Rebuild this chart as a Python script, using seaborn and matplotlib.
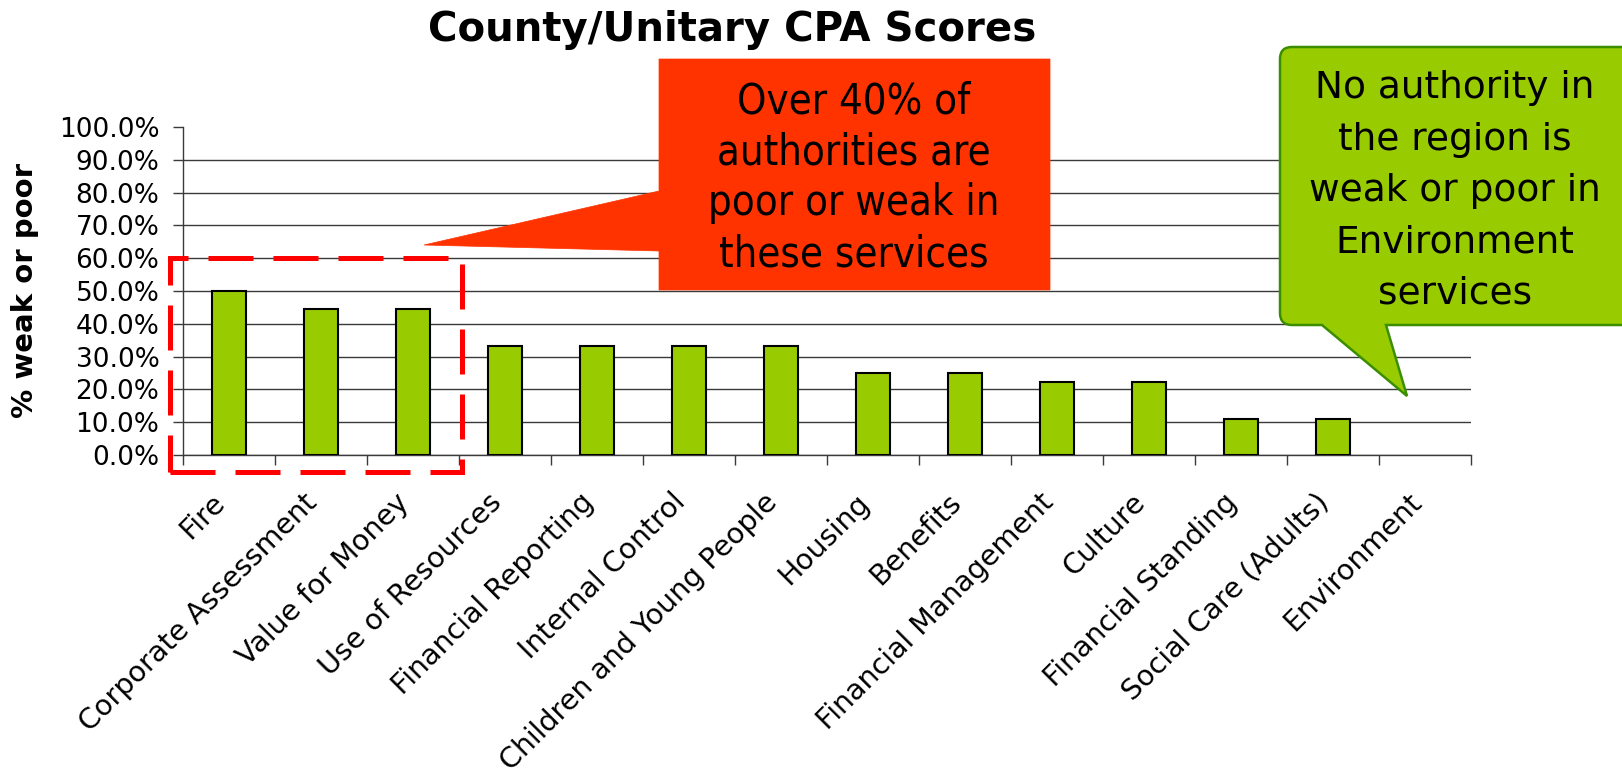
import matplotlib
matplotlib.use("Agg")
import matplotlib.pyplot as plt
import matplotlib.transforms as mtransforms
import seaborn as sns
from matplotlib.patches import Rectangle, Polygon, PathPatch
from matplotlib.path import Path
from matplotlib.ticker import PercentFormatter, FixedLocator
from matplotlib.font_manager import findfont, FontProperties

# datos del grafico
categories = ["Fire", "Corporate Assessment", "Value for Money", "Use of Resources",
              "Financial Reporting", "Internal Control", "Children and Young People",
              "Housing", "Benefits", "Financial Management", "Culture",
              "Financial Standing", "Social Care (Adults)", "Environment"]
pct_weak_poor = [50.0, 44.4, 44.4, 33.3, 33.3, 33.3, 33.3, 25.0, 25.0, 22.2, 22.2, 11.1, 11.1, 0.0]
y_ticks = [0, 10, 20, 30, 40, 50, 60, 70, 80, 90, 100]

title = "County/Unitary CPA Scores"
y_label = "% weak or poor"
red_note = "Over 40% of\nauthorities are\npoor or weak in\nthese services"
green_note = "No authority in\nthe region is\nweak or poor in\nEnvironment\nservices"

sns.set_style("white")
plt.rcParams["font.family"] = ["DejaVu Sans"]
plt.rcParams["text.color"] = "black"
plt.rcParams["axes.labelcolor"] = "black"
plt.rcParams["xtick.color"] = "black"
plt.rcParams["ytick.color"] = "black"

W, H = 1622, 779
fig = plt.figure(figsize=(W / 100, H / 100), dpi=100)


def fx(x):
    return x / W


def fy(y):
    return 1 - y / H


ax = fig.add_axes([fx(183), fy(455), (1471 - 183) / W, (455 - 127) / H])

sns.barplot(x=categories, y=pct_weak_poor, color="#99CC00", saturation=1,
            edgecolor="black", linewidth=1.5, width=0.38, ax=ax, zorder=3)
# una barra de altura cero no se ve en el original
for bar in ax.patches:
    if bar.get_height() == 0:
        bar.set_visible(False)

ax.set_xlim(-0.5, len(categories) - 0.5)
ax.set_ylim(0, 100)
ax.set_yticks(y_ticks)
ax.yaxis.set_major_formatter(PercentFormatter(decimals=1))
ax.tick_params(axis="y", labelsize=19, length=7, width=1, pad=10, direction="out",
               left=True, color="#3a3a3a")
ax.yaxis.grid(True, color="#3a3a3a", linewidth=1.0)
ax.get_ygridlines()[-1].set_visible(False)
ax.set_axisbelow(True)

# etiquetas del eje x giradas
ax.set_xticks(range(len(categories)))
ax.set_xticklabels(categories, rotation=45, ha="right", va="center",
                   rotation_mode="anchor", fontsize=20.5)
ax.tick_params(axis="x", which="major", length=0, pad=31)
shift = mtransforms.ScaledTranslation(-0.08, 0, fig.dpi_scale_trans)
for lab in ax.get_xticklabels():
    lab.set_transform(lab.get_transform() + shift)
ax.xaxis.set_minor_locator(FixedLocator([i - 0.5 for i in range(len(categories) + 1)]))
ax.tick_params(axis="x", which="minor", length=7, width=1, direction="out",
               bottom=True, color="#3a3a3a")

for side in ["top", "right"]:
    ax.spines[side].set_visible(False)
for side in ["left", "bottom"]:
    ax.spines[side].set_color("#3a3a3a")
    ax.spines[side].set_linewidth(1.0)

ax.set_xlabel("")
ax.set_ylabel(y_label, fontsize=21, fontweight="bold", labelpad=14)

fig.text(fx(732), fy(30), title, ha="center", va="center", fontsize=29, fontweight="bold")

# recuadro rojo discontinuo sobre las tres primeras barras
ax.add_patch(Rectangle((-0.64, -5.2), 3.17, 65.2, fill=False, edgecolor="#FF0000",
                       linewidth=3.6, linestyle=(0, (9, 4)), clip_on=False, zorder=6))

# llamada roja
red_pts = [(659, 59), (1050, 59), (1050, 290), (659, 290), (659, 251), (424, 245), (659, 191)]
fig.patches.append(Polygon([(fx(x), fy(y)) for x, y in red_pts], closed=True,
                           facecolor="#FF3300", edgecolor="#FF3300", linewidth=0.5,
                           transform=fig.transFigure, figure=fig, zorder=5))
narrow = FontProperties(family="DejaVu Sans", stretch="condensed")
red_size = 30 if "Condensed" in findfont(narrow) else 27
fig.text(fx(854), fy(178), red_note, ha="center", va="center", fontsize=red_size,
         family="DejaVu Sans", fontstretch="condensed", linespacing=1.27, zorder=7)

# llamada verde con esquinas redondeadas
L, R, T, B, r = 1280, 1660, 47, 325, 12
verts = [(L + r, T), (R - r, T), (R, T), (R, T + r), (R, B - r), (R, B), (R - r, B),
         (1386, B), (1407, 396), (1322, B), (L + r, B), (L, B), (L, B - r),
         (L, T + r), (L, T), (L + r, T), (L + r, T)]
codes = [Path.MOVETO, Path.LINETO, Path.CURVE3, Path.CURVE3, Path.LINETO, Path.CURVE3, Path.CURVE3,
         Path.LINETO, Path.LINETO, Path.LINETO, Path.LINETO, Path.CURVE3, Path.CURVE3,
         Path.LINETO, Path.CURVE3, Path.CURVE3, Path.CLOSEPOLY]
green_path = Path([(fx(x), fy(y)) for x, y in verts], codes)
fig.patches.append(PathPatch(green_path, facecolor="#99CC00", edgecolor="#3A8E00", linewidth=1.8,
                             transform=fig.transFigure, figure=fig, zorder=5))
fig.text(fx(1455), fy(191), green_note, ha="center", va="center", fontsize=27,
         linespacing=1.55, zorder=7)

fig.savefig("out.png", dpi=100)
